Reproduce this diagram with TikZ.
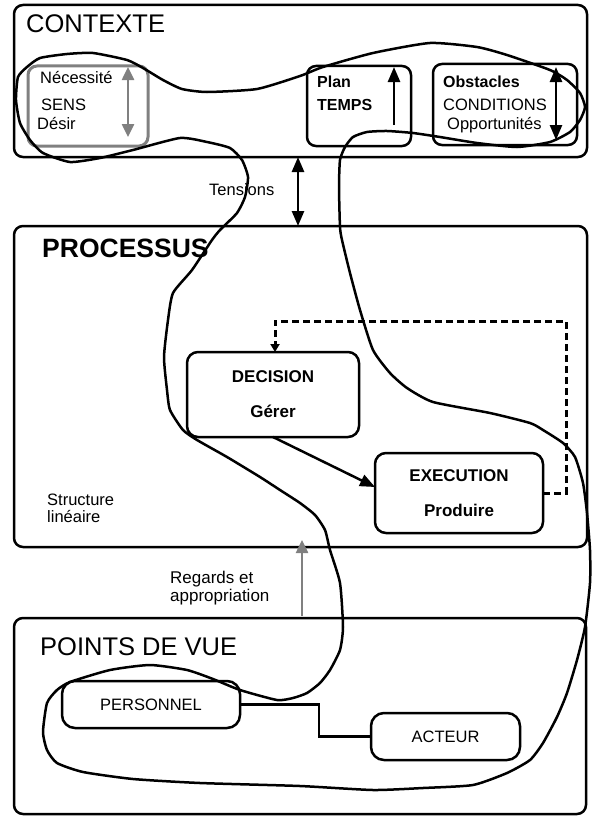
\documentclass[tikz,border=0pt]{standalone}
\usepackage{fontspec}
\setmainfont{Liberation Sans}
\usepackage{tikz}
\usetikzlibrary{arrows.meta,positioning,calc}
\usepackage{xcolor}
\definecolor{boxGrey}{RGB}{128,128,128}

\begin{document}
\begin{tikzpicture}[
  x=1pt, y=-1pt,
  every node/.style={font=\fontsize{16.5}{20}\selectfont},
  frame/.style={
    draw,
    rounded corners=9pt,
    line width=2.5pt,
    inner sep=0pt,
    outer sep=0pt
  },
  sensbox/.style={frame, draw=boxGrey, line width=3pt},
  smallbox/.style={
    frame,
    rounded corners=11pt,
    align=center
  },
  lbl/.style={anchor=base west, inner sep=0pt},
  bigTitle/.style={lbl, font=\fontsize{25.5}{30}\selectfont},
  boldLbl/.style={lbl, font=\fontsize{16}{20}\selectfont\bfseries},
  stepLbl/.style={font=\fontsize{17}{35}\selectfont\bfseries},
  arrow/.style={-{Triangle[length=15pt,width=12pt]}, line width=2.5pt},
  dblarrow/.style={{Triangle[length=15pt,width=12pt]}-{Triangle[length=15pt,width=12pt]}, line width=2.5pt},
  greyArrow/.style={-{Triangle[length=13pt,width=12pt]}, line width=2.5pt, draw=boxGrey, fill=boxGrey},
  greyDbl/.style={{Triangle[length=13pt,width=12pt]}-{Triangle[length=13pt,width=12pt]}, line width=2.5pt, draw=boxGrey, fill=boxGrey},
  loopline/.style={line width=2.5pt, line join=round}
]
\useasboundingbox (0,0) rectangle (592,816);

% ------------------------------------------------
% The three frames
% ------------------------------------------------
\node[frame, minimum width=573pt, minimum height=152pt] (ctx)  at (300.5,81) {};
\node[frame, minimum width=573pt, minimum height=321pt] (proc) at (300.5,386.5) {};
\node[frame, minimum width=572pt, minimum height=196pt] (pdv)  at (300,716) {};

\node[bigTitle] (ctxTitle) at (26,33) {CONTEXTE};
\node[lbl, font=\fontsize{26.5}{30}\selectfont\bfseries] (procTitle) at (42,257) {PROCESSUS};
\node[bigTitle] (pdvTitle) at (40,655) {POINTS DE VUE};

% ------------------------------------------------
% Contexte
% ------------------------------------------------
\node[sensbox, minimum width=120pt, minimum height=80pt] (sens) at (88,106) {};
\node[lbl] (necessite) at (40,83) {Nécessité};
\node[lbl] (sensLbl)   at (41,110) {SENS};
\node[lbl] (desir)     at (37,129) {Désir};
\draw[greyDbl] ([xshift=-20pt,yshift=-1pt]sens.north east) -- ([xshift=-20pt,yshift=9pt]sens.south east);

\node[frame, minimum width=104pt, minimum height=80pt] (temps) at (359,106) {};
\node[boldLbl] (plan)      at (317,88) {Plan};
\node[boldLbl] (tempsLbl)  at (317,110) {TEMPS};
\draw[arrow] ([xshift=-17pt,yshift=21pt]temps.south east) -- ([xshift=-17pt,yshift=-1pt]temps.north east);

\node[frame, minimum width=144pt, minimum height=81pt] (obst) at (505,104.5) {};
\node[boldLbl] (obstacles) at (443,87) {Obstacles};
\node[lbl] (conditions)    at (443,110) {CONDITIONS};
\node[lbl] (opport)        at (447,129) {Opportunités};
\draw[dblarrow] ([xshift=-21pt,yshift=-3pt]obst.north east) -- ([xshift=-21pt,yshift=5pt]obst.south east);

% Tensions between Contexte and Processus
\coordinate (tensLane) at (298,0);
\node[lbl] (tensions) at (209,195) {Tensions};
\draw[dblarrow] (tensLane |- ctx.south) -- (tensLane |- proc.north);

% ------------------------------------------------
% Processus
% ------------------------------------------------
\node[smallbox, stepLbl, minimum width=172pt, minimum height=85pt] (decision) at (273,394.5) {DECISION\\Gérer};
\node[smallbox, stepLbl, minimum width=168pt, minimum height=80pt] (execution) at (459,493) {EXECUTION\\Produire};
\node[anchor=west, inner sep=0pt, align=left, font=\fontsize{16.5}{17}\selectfont] (structure) at (47,508) {Structure\\linéaire};

\draw[arrow] (decision.south) -- ([yshift=6pt]execution.west);

% feedback loop (dashed)
\coordinate (dashCorner) at (566,321);
\draw[line width=3pt, dash pattern=on 7pt off 4pt, -{Triangle[length=8pt,width=9pt]}]
  (execution.east) -- (execution.east -| dashCorner)
  -- (dashCorner)
  -- ([xshift=2pt]decision.north |- dashCorner)
  -- ([xshift=2pt]decision.north);

% Regards et appropriation
\coordinate (regLane) at (302,0);
\node[anchor=west, inner sep=0pt, align=left, font=\fontsize{17}{18}\selectfont] (regards) at (170,588) {Regards et\\appropriation};
\draw[greyArrow] ([yshift=2pt]regLane |- pdv.north) -- ([yshift=7pt]regLane |- proc.south);

% ------------------------------------------------
% Points de vue
% ------------------------------------------------
\node[smallbox, rounded corners=13pt, minimum width=178pt, minimum height=47pt] (personnel) at (151,704.5) {PERSONNEL};
\node[smallbox, rounded corners=13pt, minimum width=149pt, minimum height=47pt] (acteur) at (445.5,736.5) {ACTEUR};

\coordinate (persLane) at (319,0);
\draw[line width=2.5pt] (personnel.east) -- (persLane |- personnel.east)
  -- (persLane |- acteur.west) -- (acteur.west);

% ------------------------------------------------
% The closed loop drawn over everything
% ------------------------------------------------
\draw[loopline] plot[smooth cycle, tension=0.35] coordinates {
  (18,77) (27,67) (40,58) (67,54) (93,53) (127,60) (143,68) (163,80) (182,89)
  (207,92) (257,89) (300,76) (323,67) (373,53) (430,43) (477,47) (507,55)
  (550,70) (567,80) (580,93) (585,107) (580,120) (570,132) (550,142) (517,147)
  (477,143) (440,137) (413,133) (387,131) (367,132) (353,137) (345,147)
  (340,160) (339,187) (340,227) (342,240) (350,273) (360,310) (373,350)
  (390,373) (407,388) (433,402) (490,413) (530,423) (543,430) (563,443)
  (575,457) (583,483) (587,513) (590,550) (590,583) (585,627) (577,660)
  (567,693) (557,717) (543,743) (530,760) (507,773) (473,785) (423,788)
  (373,790) (300,786) (200,783) (133,779) (83,772) (57,763) (47,750)
  (43,732) (47,703) (57,690) (70,682) (110,670) (150,665) (187,670)
  (213,679) (240,690) (277,700) (293,698) (307,693) (320,683) (330,670)
  (340,650) (343,627) (340,583) (330,550) (325,530) (315,515) (300,503)
  (280,490) (260,477) (227,457) (197,440) (183,430) (170,410) (167,390)
  (164,357) (168,320) (173,293) (192,270) (212,240) (220,230) (237,213)
  (245,197) (248,177) (242,160) (230,148) (207,142) (180,138) (133,150)
  (100,158) (70,162) (43,153) (30,140) (20,123) (16,100)
};

\end{tikzpicture}
\end{document}
